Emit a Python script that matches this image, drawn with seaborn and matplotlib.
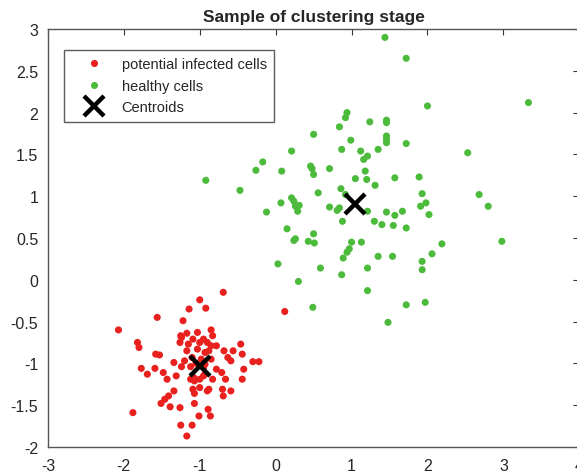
import numpy as np
import pandas as pd
import matplotlib
matplotlib.use('Agg')
import matplotlib.pyplot as plt
import seaborn as sns

# infected cells (red cluster)
infected_x = [-0.69, -1.00, -1.14, -0.92, 0.12, -1.56, -1.22, -2.07, -1.25, -1.24,
              -1.17, -1.03, -0.85, -0.83, -1.09, -0.95, -0.90, -1.00, -1.82, -1.80,
              -1.26, -1.17, -1.03, -0.93, -0.85, -0.78, -0.46, -0.68, -0.56, -0.44,
              -0.63, -1.58, -1.53, -0.30, -0.22, -0.59, -1.34, -1.24, -1.12, -0.93,
              -1.77, -1.59, -1.69, -1.48, -0.78, -0.93, -0.71, -0.42, -1.31, -1.43,
              -1.12, -1.07, -1.00, -0.83, -0.66, -0.44, -1.09, -1.00, -0.88, -0.70,
              -0.59, -1.34, -1.41, -1.46, -0.69, -1.07, -0.90, -1.51, -1.39, -1.26,
              -1.07, -0.89, -1.88, -1.01, -0.86, -1.25, -1.10, -1.17, -1.05, -0.98,
              -1.10, -0.95, -1.08, -0.95, -1.20, -0.85, -1.15, -0.88]
infected_y = [-0.15, -0.24, -0.35, -0.34, -0.38, -0.45, -0.49, -0.60, -0.67, -0.69,
              -0.64, -0.63, -0.60, -0.67, -0.71, -0.71, -0.75, -0.75, -0.75, -0.81,
              -0.75, -0.85, -0.83, -0.87, -0.79, -0.79, -0.77, -0.85, -0.85, -0.89,
              -0.93, -0.89, -0.90, -0.98, -0.98, -0.97, -0.99, -1.04, -1.04, -1.01,
              -1.06, -1.06, -1.13, -1.11, -1.07, -1.13, -1.11, -1.07, -1.15, -1.19,
              -1.19, -1.21, -1.19, -1.19, -1.19, -1.19, -1.31, -1.29, -1.31, -1.31,
              -1.33, -1.33, -1.39, -1.43, -1.39, -1.36, -1.33, -1.48, -1.52, -1.53,
              -1.48, -1.55, -1.59, -1.63, -1.63, -1.74, -1.74, -1.87, -1.00, -0.95,
              -0.93, -1.05, -1.17, -1.15, -0.97, -0.95, -0.77, -0.85]

# healthy cells (green cluster)
healthy_x = [1.44, 1.72, 3.33, 2.00, 0.94, 0.92, 1.24, 1.46, 1.46, 0.84,
             0.50, 1.46, 1.46, 1.46, 0.99, 1.72, 0.21, 0.87, 1.12, 1.35,
             1.21, 1.16, 2.53, -0.17, -0.26, 0.08, 0.46, 0.48, 0.50, 0.71,
             1.18, 1.05, 1.20, 1.31, 1.57, 1.89, -0.92, -0.47, 0.56, 0.86,
             0.92, 1.93, 2.68, 0.21, 0.24, 0.07, 0.26, 0.31, 0.29, -0.12,
             0.71, 0.81, 0.84, 1.21, 1.46, 1.67, 1.57, 1.91, 1.98, 2.02,
             2.80, 0.88, 1.30, 1.40, 1.55, 1.72, 0.15, 0.50, 0.26, 0.24,
             0.43, 0.51, 1.00, 1.13, 2.98, 2.19, 0.97, 0.94, 0.89, 1.35,
             1.54, 2.06, 1.93, 1.93, 0.03, 0.59, 1.21, 0.87, 0.30, 1.21,
             1.72, 1.97, 0.49, 1.48]
healthy_y = [2.90, 2.65, 2.12, 2.08, 2.00, 1.94, 1.89, 1.91, 1.88, 1.83,
             1.74, 1.72, 1.68, 1.64, 1.67, 1.63, 1.54, 1.56, 1.54, 1.56,
             1.48, 1.44, 1.52, 1.41, 1.31, 1.30, 1.36, 1.33, 1.26, 1.33,
             1.30, 1.21, 1.20, 1.13, 1.22, 1.23, 1.19, 1.07, 1.04, 1.09,
             1.02, 1.03, 1.02, 0.98, 0.94, 0.92, 0.88, 0.89, 0.82, 0.81,
             0.87, 0.83, 0.86, 0.82, 0.81, 0.82, 0.77, 0.88, 0.92, 0.78,
             0.88, 0.70, 0.70, 0.66, 0.65, 0.62, 0.61, 0.55, 0.49, 0.47,
             0.46, 0.44, 0.45, 0.45, 0.46, 0.43, 0.37, 0.33, 0.26, 0.28,
             0.28, 0.31, 0.22, 0.12, 0.19, 0.14, 0.14, 0.06, -0.02, -0.13,
             -0.30, -0.27, -0.33, -0.51]

centroid_x = [1.05, -1.00]
centroid_y = [0.91, -1.03]

labels = ['potential infected cells', 'healthy cells', 'Centroids']

df = pd.DataFrame({
    'x': infected_x + healthy_x,
    'y': infected_y + healthy_y,
    'group': [labels[0]] * len(infected_x) + [labels[1]] * len(healthy_x),
})
cent = pd.DataFrame({'x': centroid_x, 'y': centroid_y})

sns.set_style('white')
plt.rcParams['font.family'] = ['Liberation Sans', 'DejaVu Sans']
plt.rcParams['axes.unicode_minus'] = False

fig = plt.figure(figsize=(5.77, 4.77), dpi=100)
ax = fig.add_axes([0.083, 0.061, 0.921, 0.876])

sns.scatterplot(data=df, x='x', y='y', hue='group',
                palette={labels[0]: '#e8201e', labels[1]: '#4cbb3c'},
                s=26, linewidth=0, ax=ax)
ax.plot(cent['x'], cent['y'], 'x', color='black', markersize=14,
        markeredgewidth=3.2, label=labels[2])

ax.set_xlim(-3, 4)
ax.set_ylim(-2, 3)
ax.set_xticks(range(-3, 5))
ax.set_yticks(np.arange(-2, 3.01, 0.5))
ax.set_yticklabels(['-2', '-1.5', '-1', '-0.5', '0', '0.5', '1', '1.5', '2', '2.5', '3'])
ax.set_xlabel('')
ax.set_ylabel('')
ax.tick_params(direction='in', length=4, width=0.8, colors='#333333',
               labelsize=11.5, top=True, right=True, labelcolor='#262626')
ax.tick_params(axis='x', pad=8)
ax.tick_params(axis='y', pad=7)
for sp in ax.spines.values():
    sp.set_color('#555555')
    sp.set_linewidth(1.0)
ax.set_title('Sample of clustering stage', fontsize=12.5, fontweight='bold', pad=6)

handles, _ = ax.get_legend_handles_labels()
leg = ax.legend(handles=handles, labels=labels, loc='upper left',
                bbox_to_anchor=(0.030, 0.950), borderaxespad=0,
                fontsize=10.5, frameon=True, fancybox=False,
                labelspacing=0.52, handletextpad=0.36, borderpad=0.5,
                handlelength=3.1, markerscale=1.0)
leg.get_frame().set_edgecolor('#333333')
leg.get_frame().set_linewidth(1.0)
for t in leg.get_texts():
    t.set_color('#262626')

fig.savefig('out.png', dpi=100)
